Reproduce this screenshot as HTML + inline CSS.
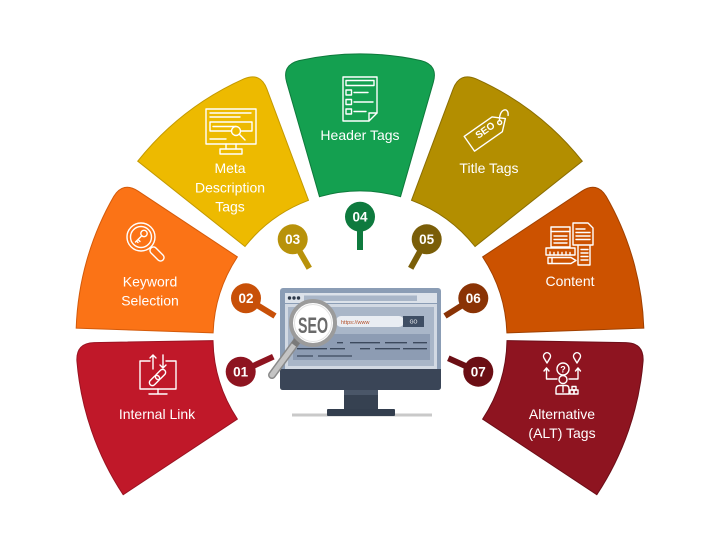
<!DOCTYPE html>
<html><head><meta charset="utf-8">
<style>
html,body{margin:0;padding:0;background:#fff;width:720px;height:540px;overflow:hidden}
svg{display:block}
text{font-family:"Liberation Sans",sans-serif}
</style></head>
<body>
<svg width="720" height="540" viewBox="0 0 720 540" xmlns="http://www.w3.org/2000/svg">
<rect width="720" height="540" fill="#fff"/>

<!-- Segments -->
<path d="M 237.4 419.1 L 123.2 494.7 A 284 284 0 0 1 76.9 360.8 Q 76.1 343.0 94.1 342.6 L 213.0 340.6 A 147 147 0 0 0 237.4 419.1 Z" fill="#C01829" stroke="#9A1322" stroke-width="1"/>
<path d="M 213.1 332.9 L 76.2 328.1 A 284 284 0 0 1 113.8 196.4 Q 123.2 181.3 138.2 191.2 L 237.4 256.9 A 147 147 0 0 0 213.1 332.9 Z" fill="#FB7316" stroke="#D45A0A" stroke-width="1"/>
<path d="M 245.0 246.5 L 137.7 161.2 A 284 284 0 0 1 244.0 78.8 Q 260.5 72.0 266.8 88.8 L 308.5 200.3 A 147 147 0 0 0 245.0 246.5 Z" fill="#EDBA00" stroke="#C39900" stroke-width="1"/>
<path d="M 319.5 196.7 L 286.7 82.3 Q 281.7 65.0 299.0 60.6 A 284 284 0 0 1 421.0 60.6 Q 438.3 65.0 433.3 82.3 L 400.5 196.7 A 147 147 0 0 0 319.5 196.7 Z" fill="#14A050" stroke="#0E7A3C" stroke-width="1"/>
<path d="M 411.5 200.3 L 453.2 88.8 Q 459.5 72.0 476.0 78.8 A 284 284 0 0 1 582.3 161.2 L 475.0 246.5 A 147 147 0 0 0 411.5 200.3 Z" fill="#B38E00" stroke="#8A6D00" stroke-width="1"/>
<path d="M 482.6 256.9 L 581.8 191.2 Q 596.8 181.3 606.2 196.4 A 284 284 0 0 1 643.8 328.1 L 506.9 332.9 A 147 147 0 0 0 482.6 256.9 Z" fill="#CC5200" stroke="#A04000" stroke-width="1"/>
<path d="M 507.0 340.6 L 625.9 342.6 Q 643.9 343.0 643.1 360.8 A 284 284 0 0 1 596.8 494.7 L 482.6 419.1 A 147 147 0 0 0 507.0 340.6 Z" fill="#8E1420" stroke="#6C0E18" stroke-width="1"/>

<!-- Labels -->
<g fill="#fff" font-size="14" text-anchor="middle">
<text x="157" y="419">Internal Link</text>
<text x="150" y="286.5">Keyword</text>
<text x="150" y="305.5">Selection</text>
<text x="230" y="173">Meta</text>
<text x="230" y="192.5">Description</text>
<text x="230" y="211.5">Tags</text>
<text x="360" y="140">Header Tags</text>
<text x="489" y="173">Title Tags</text>
<text x="570" y="286">Content</text>
<text x="562" y="419">Alternative</text>
<text x="562" y="438">(ALT) Tags</text>
</g>

<!-- Icons -->
<g fill="none" stroke="#fff" stroke-width="1.4" stroke-linecap="round" stroke-linejoin="round">
  <!-- Internal link -->
  <path d="M 150 361 H 140 V 389 H 176 V 361 H 166"/>
  <path d="M 158 389 V 394 M 149 394 H 167"/>
  <path d="M 153 369 V 355 M 150 358 L 153 355 L 156 358"/>
  <path d="M 163 355 V 368 M 160 365 L 163 368 L 166 365"/>
  <rect x="-3" y="-6" width="6" height="12" rx="3" transform="translate(154.5,380.5) rotate(45)"/>
  <rect x="-3" y="-6" width="6" height="12" rx="3" transform="translate(160.5,374.5) rotate(45)"/>
  <!-- Keyword -->
  <circle cx="141" cy="237" r="14"/>
  <circle cx="141" cy="237" r="10.5"/>
  <rect x="0" y="-3.5" width="17" height="7" rx="3.5" transform="translate(151,248) rotate(45)"/>
  <circle cx="144" cy="233.5" r="3.2"/>
  <path d="M 141.8 235.8 L 135.5 242 M 138 239.5 L 140 241.5 M 136.5 241 L 138 242.5"/>
  <!-- Meta -->
  <rect x="206" y="109" width="50" height="35"/>
  <path d="M 210 113 H 251 M 210 117 H 240 M 210 139 H 226"/>
  <rect x="210" y="122" width="42" height="9"/>
  <path d="M 213 126.5 H 236"/>
  <circle cx="236" cy="131" r="4.5" fill="#EDBA00"/>
  <path d="M 239.3 134.3 L 245 140"/>
  <path d="M 226 144 V 149 M 236 144 V 149"/>
  <rect x="220" y="149" width="22" height="5"/>
  <!-- Header -->
  <path d="M 343 77 H 377 V 113 L 369 121 H 343 Z"/>
  <path d="M 377 113 H 369 V 121"/>
  <rect x="346" y="80.5" width="28" height="5"/>
  <rect x="346" y="90" width="5.5" height="5"/>
  <rect x="346" y="99.5" width="5.5" height="5"/>
  <rect x="346" y="109" width="5.5" height="5"/>
  <path d="M 354 92.5 H 368 M 354 102 H 373 M 354 111.5 H 366"/>
  <!-- Title tag -->
  <g transform="translate(489,130) rotate(-35)">
    <path d="M -24 -9 H 10 L 20 0 L 10 9 H -24 Z"/>
    <circle cx="13" cy="0" r="2"/>
    <path d="M 14 -1.5 C 20 -12 30 -8 24 -1"/>
  </g>
  <!-- Content -->
  <rect x="551" y="227" width="19" height="20"/>
  <path d="M 551 231.5 H 570 M 554 236 H 567 M 554 239.5 H 567 M 554 243 H 567"/>
  <path d="M 573 223 H 588 L 593 228 V 245 H 573 Z"/>
  <path d="M 576 229 H 585 M 576 232.5 H 590 M 576 236 H 590 M 576 239.5 H 590"/>
  <rect x="546" y="248" width="29" height="7"/>
  <path d="M 550 255 V 252 M 554 255 V 252.5 M 558 255 V 252 M 562 255 V 252.5 M 566 255 V 252 M 570 255 V 252.5"/>
  <path d="M 548 257.5 H 571 L 576 260.5 L 571 263.5 H 548 Z M 552 257.5 V 263.5"/>
  <path d="M 578 246 V 265 H 590 V 246 M 581 249.5 H 588 M 581 253 H 588 M 581 256.5 H 588 M 581 260 H 588"/>
  <!-- ALT -->
  <path d="M 547 363 L 544 358 A 3.5 3.5 0 1 1 550 358 Z"/>
  <path d="M 577 363 L 574 358 A 3.5 3.5 0 1 1 580 358 Z"/>
  <circle cx="563" cy="369" r="6"/>
  <path d="M 546.5 368 V 379 H 557 M 544 371 L 546.5 368 L 549 371"/>
  <path d="M 578 368 V 379 H 569 M 575.5 371 L 578 368 L 580.5 371"/>
  <circle cx="563" cy="379.5" r="4"/>
  <path d="M 556 394 V 389 Q 556 385.5 560 385.5 H 566 Q 569 385.5 569 389 V 394 Z"/>
  <path d="M 563 386 V 392"/>
  <rect x="572" y="386.5" width="4" height="3.5"/>
  <rect x="570" y="390" width="4" height="4"/>
  <rect x="574" y="390" width="4" height="4"/>
</g>
<text x="563" y="372.5" font-size="9" fill="#fff" text-anchor="middle" font-weight="bold">?</text>
<text transform="translate(487,133) rotate(-35)" font-size="10" fill="#fff" text-anchor="middle" font-weight="bold">SEO</text>

<!-- Pins: stems -->
<g stroke-width="6" stroke-linecap="butt">
  <line x1="240.7" y1="371.7" x2="273.3" y2="356.7" stroke="#8E1420"/>
  <line x1="246" y1="298.3" x2="275" y2="316" stroke="#C85008"/>
  <line x1="292.7" y1="239.3" x2="309.3" y2="268.3" stroke="#B8920A"/>
  <line x1="360" y1="216.7" x2="360" y2="250" stroke="#0E7A3E"/>
  <line x1="426.7" y1="239.3" x2="410.7" y2="268.3" stroke="#7A5E08"/>
  <line x1="473.3" y1="298.3" x2="445" y2="316" stroke="#8A3305"/>
  <line x1="478.3" y1="371.7" x2="448.3" y2="358.3" stroke="#6B0E14"/>
</g>
<circle cx="240.7" cy="371.7" r="15" fill="#8E1420"/>
<circle cx="246" cy="298.3" r="15" fill="#C85008"/>
<circle cx="292.7" cy="239.3" r="15" fill="#B8920A"/>
<circle cx="360" cy="216.7" r="15" fill="#0E7A3E"/>
<circle cx="426.7" cy="239.3" r="15" fill="#7A5E08"/>
<circle cx="473.3" cy="298.3" r="15" fill="#8A3305"/>
<circle cx="478.3" cy="371.7" r="15" fill="#6B0E14"/>
<g fill="#fff" font-size="13.5" font-weight="bold" text-anchor="middle">
  <text x="240.7" y="376.6">01</text>
  <text x="246" y="303.2">02</text>
  <text x="292.7" y="244.2">03</text>
  <text x="360" y="221.6">04</text>
  <text x="426.7" y="244.2">05</text>
  <text x="473.3" y="303.2">06</text>
  <text x="478.3" y="376.6">07</text>
</g>

<!-- Monitor -->
<rect x="292" y="413.5" width="140" height="3" fill="#C9C9C9"/>
<rect x="344" y="390" width="34" height="22" fill="#364151"/>
<rect x="344" y="390" width="34" height="5" fill="#4A5668"/>
<rect x="327" y="409" width="68" height="7" rx="1" fill="#333E4E"/>
<rect x="280" y="288" width="161" height="102" rx="3" fill="#8B9DB5"/>
<path d="M280 369 H441 V387 Q441 390 438 390 H283 Q280 390 280 387 Z" fill="#3A4557"/>
<rect x="285" y="293" width="152" height="10" fill="#DCE2EA"/>
<circle cx="289.5" cy="298" r="1.7" fill="#2E3A4B"/>
<circle cx="294" cy="298" r="1.7" fill="#2E3A4B"/>
<circle cx="298.5" cy="298" r="1.7" fill="#2E3A4B"/>
<rect x="304" y="295.5" width="113" height="5.5" fill="#A9B6C8"/>
<rect x="285" y="304" width="152" height="65" fill="#D2D9E3"/>
<rect x="288" y="307" width="146" height="59" fill="#A9B6C8"/>
<rect x="336" y="316" width="68" height="11" rx="5" fill="#E9EDF3"/>
<rect x="403" y="316" width="21" height="11" fill="#3F4E64"/>
<text x="341" y="323.8" font-size="5.5" fill="#B4502A">https://www</text>
<text x="413.5" y="323.5" font-size="5" fill="#fff" text-anchor="middle">GO</text>
<rect x="293" y="334" width="137" height="26" fill="#8D9CB3"/>
<g stroke="#3C495D" stroke-width="1.3">
  <path d="M 337 342.7 H 343 M 350 342.7 H 380 M 385 342.7 H 407 M 413 342.7 H 427"/>
  <path d="M 297 348.7 H 327 M 330 348.7 H 345 M 360 348.7 H 370 M 375 348.7 H 400 M 403 348.7 H 427"/>
  <path d="M 297 356 H 313 M 318 356 H 352"/>
</g>

<!-- Magnifier -->
<line x1="297" y1="341" x2="272" y2="375" stroke="#8A8A8A" stroke-width="8" stroke-linecap="round"/>
<line x1="297" y1="341" x2="272" y2="375" stroke="#C4C4C4" stroke-width="5" stroke-linecap="round"/>
<line x1="300" y1="337" x2="294" y2="345" stroke="#7A7A7A" stroke-width="7"/>
<circle cx="313" cy="323" r="22" fill="#fff" stroke="#9B9B9B" stroke-width="4"/>
<circle cx="313" cy="323" r="18.5" fill="none" stroke="#E2E2E2" stroke-width="1"/>
<text x="313" y="333" font-size="22" font-weight="bold" fill="#6A6A6A" text-anchor="middle" textLength="30" lengthAdjust="spacingAndGlyphs">SEO</text>
</svg>
</body></html>
